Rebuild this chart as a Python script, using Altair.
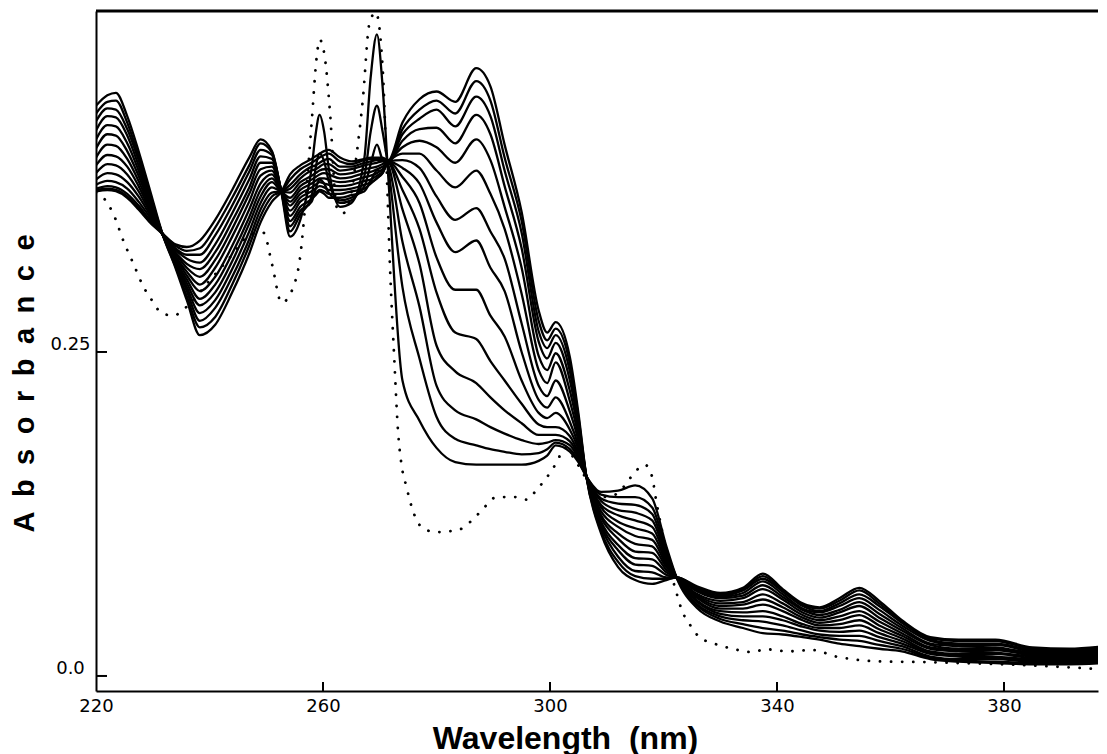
import altair as alt
import pandas as pd

# Wavelength grid (nm) shared by the 14 solid spectra
WL = [220, 222, 223.5, 225.5, 227.5, 229.5, 231.8, 234, 236, 238.3, 241, 244, 247, 249, 251,
      252.7, 254.2, 256, 258, 258.7, 259.4, 260.2, 261, 263, 265, 267.3, 268.4, 269.5, 270.5,
      271.5, 274, 277, 280, 283.3, 287, 289.5, 292, 295, 298, 299.5, 301, 303.5, 305, 306.4,
      309, 312, 315, 318, 320.5, 322.3, 326, 330, 334, 337.5, 341, 344.5, 347.5, 351, 354.5,
      358, 362, 367, 372, 378.5, 385, 391.5, 398]

s00 = [0.374, 0.375, 0.374, 0.369, 0.360, 0.350, 0.341, 0.333, 0.331, 0.336, 0.352, 0.375, 0.400, 0.414, 0.405,
       0.372, 0.339, 0.352, 0.392, 0.418, 0.433, 0.420, 0.392, 0.362, 0.365, 0.400, 0.462, 0.495, 0.455,
       0.385, 0.228, 0.197, 0.176, 0.165, 0.163, 0.163, 0.163, 0.163, 0.166, 0.170, 0.178, 0.173, 0.165, 0.154,
       0.142, 0.143, 0.147, 0.137, 0.100, 0.076, 0.052, 0.042, 0.037, 0.033, 0.032, 0.030, 0.028, 0.025, 0.023,
       0.021, 0.019, 0.013, 0.011, 0.010, 0.009, 0.009, 0.010]
s01 = [0.375, 0.376, 0.375, 0.370, 0.361, 0.351, 0.341, 0.332, 0.328, 0.330, 0.346, 0.369, 0.394, 0.411, 0.404,
       0.373, 0.343, 0.356, 0.370, 0.392, 0.403, 0.397, 0.382, 0.365, 0.367, 0.386, 0.420, 0.440, 0.420,
       0.392, 0.300, 0.245, 0.200, 0.183, 0.178, 0.175, 0.173, 0.171, 0.172, 0.175, 0.180, 0.175, 0.166, 0.154,
       0.140, 0.138, 0.138, 0.130, 0.097, 0.076, 0.054, 0.044, 0.040, 0.037, 0.035, 0.032, 0.030, 0.028, 0.027,
       0.024, 0.021, 0.014, 0.012, 0.011, 0.010, 0.010, 0.011]
s02 = [0.376, 0.378, 0.377, 0.372, 0.363, 0.352, 0.341, 0.330, 0.325, 0.325, 0.340, 0.363, 0.389, 0.406, 0.402,
       0.373, 0.347, 0.359, 0.366, 0.376, 0.383, 0.380, 0.373, 0.367, 0.369, 0.378, 0.395, 0.410, 0.398,
       0.394, 0.335, 0.285, 0.224, 0.205, 0.198, 0.192, 0.187, 0.182, 0.179, 0.180, 0.182, 0.178, 0.168, 0.154,
       0.137, 0.133, 0.132, 0.125, 0.094, 0.076, 0.055, 0.046, 0.043, 0.042, 0.039, 0.035, 0.032, 0.031, 0.031,
       0.027, 0.023, 0.015, 0.013, 0.013, 0.011, 0.011, 0.012]
s03 = [0.379, 0.382, 0.381, 0.376, 0.366, 0.354, 0.341, 0.329, 0.322, 0.319, 0.333, 0.357, 0.383, 0.401, 0.399,
       0.374, 0.351, 0.362, 0.368, 0.371, 0.374, 0.372, 0.369, 0.369, 0.371, 0.374, 0.382, 0.390, 0.390,
       0.396, 0.360, 0.318, 0.255, 0.235, 0.226, 0.215, 0.205, 0.195, 0.186, 0.186, 0.186, 0.181, 0.170, 0.154,
       0.135, 0.128, 0.126, 0.120, 0.092, 0.076, 0.057, 0.048, 0.046, 0.046, 0.043, 0.038, 0.035, 0.034, 0.035,
       0.030, 0.025, 0.017, 0.015, 0.014, 0.012, 0.012, 0.013]
s04 = [0.383, 0.388, 0.387, 0.381, 0.370, 0.356, 0.340, 0.327, 0.318, 0.314, 0.327, 0.351, 0.377, 0.396, 0.396,
       0.374, 0.355, 0.366, 0.371, 0.373, 0.375, 0.374, 0.372, 0.372, 0.374, 0.376, 0.380, 0.384, 0.388,
       0.396, 0.375, 0.345, 0.296, 0.265, 0.260, 0.243, 0.228, 0.210, 0.194, 0.192, 0.192, 0.185, 0.172, 0.154,
       0.132, 0.124, 0.120, 0.115, 0.090, 0.076, 0.058, 0.050, 0.049, 0.050, 0.046, 0.040, 0.037, 0.037, 0.039,
       0.033, 0.027, 0.018, 0.016, 0.015, 0.013, 0.013, 0.014]
s05 = [0.388, 0.395, 0.394, 0.387, 0.374, 0.358, 0.340, 0.326, 0.315, 0.308, 0.321, 0.345, 0.372, 0.391, 0.393,
       0.374, 0.359, 0.369, 0.374, 0.376, 0.378, 0.377, 0.375, 0.375, 0.376, 0.379, 0.381, 0.384, 0.388,
       0.397, 0.385, 0.365, 0.323, 0.298, 0.298, 0.278, 0.262, 0.228, 0.203, 0.199, 0.203, 0.190, 0.175, 0.154,
       0.130, 0.119, 0.114, 0.110, 0.088, 0.076, 0.060, 0.052, 0.052, 0.055, 0.050, 0.043, 0.039, 0.040, 0.043,
       0.036, 0.029, 0.019, 0.017, 0.017, 0.014, 0.014, 0.015]
s06 = [0.394, 0.402, 0.401, 0.393, 0.378, 0.360, 0.340, 0.324, 0.312, 0.302, 0.315, 0.339, 0.366, 0.386, 0.390,
       0.374, 0.363, 0.372, 0.377, 0.379, 0.381, 0.380, 0.379, 0.378, 0.379, 0.382, 0.383, 0.386, 0.389,
       0.397, 0.392, 0.380, 0.350, 0.327, 0.336, 0.315, 0.297, 0.250, 0.213, 0.207, 0.215, 0.196, 0.178, 0.154,
       0.127, 0.115, 0.108, 0.105, 0.086, 0.076, 0.061, 0.054, 0.055, 0.059, 0.053, 0.045, 0.041, 0.043, 0.047,
       0.039, 0.031, 0.021, 0.019, 0.018, 0.015, 0.014, 0.016]
s07 = [0.400, 0.410, 0.409, 0.399, 0.382, 0.362, 0.340, 0.323, 0.309, 0.297, 0.308, 0.332, 0.360, 0.380, 0.387,
       0.374, 0.366, 0.375, 0.380, 0.382, 0.384, 0.384, 0.383, 0.381, 0.382, 0.385, 0.386, 0.388, 0.391,
       0.397, 0.398, 0.392, 0.370, 0.352, 0.361, 0.343, 0.322, 0.272, 0.224, 0.216, 0.228, 0.204, 0.182, 0.154,
       0.124, 0.110, 0.102, 0.100, 0.084, 0.076, 0.062, 0.056, 0.057, 0.063, 0.056, 0.047, 0.043, 0.046, 0.050,
       0.042, 0.033, 0.022, 0.020, 0.020, 0.016, 0.015, 0.017]
s08 = [0.407, 0.418, 0.417, 0.405, 0.386, 0.364, 0.340, 0.321, 0.306, 0.291, 0.302, 0.326, 0.354, 0.375, 0.384,
       0.374, 0.369, 0.378, 0.383, 0.385, 0.387, 0.388, 0.387, 0.384, 0.385, 0.388, 0.389, 0.391, 0.393,
       0.397, 0.403, 0.403, 0.390, 0.377, 0.390, 0.372, 0.345, 0.295, 0.236, 0.226, 0.242, 0.212, 0.186, 0.154,
       0.122, 0.106, 0.096, 0.095, 0.082, 0.076, 0.063, 0.058, 0.060, 0.067, 0.059, 0.049, 0.045, 0.049, 0.054,
       0.045, 0.035, 0.024, 0.021, 0.021, 0.017, 0.016, 0.018]
s09 = [0.414, 0.425, 0.424, 0.411, 0.390, 0.366, 0.340, 0.320, 0.303, 0.286, 0.296, 0.320, 0.349, 0.370, 0.381,
       0.374, 0.373, 0.381, 0.386, 0.388, 0.390, 0.391, 0.391, 0.387, 0.388, 0.391, 0.392, 0.393, 0.395,
       0.397, 0.408, 0.413, 0.408, 0.396, 0.414, 0.398, 0.362, 0.315, 0.247, 0.236, 0.249, 0.220, 0.190, 0.154,
       0.119, 0.101, 0.091, 0.090, 0.080, 0.076, 0.065, 0.060, 0.062, 0.070, 0.061, 0.051, 0.047, 0.051, 0.057,
       0.048, 0.037, 0.025, 0.023, 0.022, 0.018, 0.017, 0.019]
s10 = [0.421, 0.432, 0.431, 0.417, 0.394, 0.368, 0.340, 0.319, 0.300, 0.280, 0.290, 0.314, 0.343, 0.365, 0.377,
       0.374, 0.376, 0.384, 0.390, 0.391, 0.393, 0.395, 0.395, 0.390, 0.391, 0.394, 0.395, 0.396, 0.397,
       0.397, 0.413, 0.422, 0.423, 0.411, 0.433, 0.418, 0.378, 0.330, 0.258, 0.245, 0.257, 0.228, 0.194, 0.154,
       0.117, 0.097, 0.086, 0.085, 0.078, 0.076, 0.066, 0.061, 0.064, 0.073, 0.063, 0.052, 0.049, 0.054, 0.060,
       0.051, 0.039, 0.027, 0.024, 0.024, 0.019, 0.018, 0.020]
s11 = [0.428, 0.438, 0.437, 0.422, 0.398, 0.370, 0.340, 0.318, 0.297, 0.274, 0.284, 0.308, 0.337, 0.360, 0.373,
       0.374, 0.379, 0.387, 0.393, 0.394, 0.396, 0.398, 0.399, 0.393, 0.393, 0.396, 0.397, 0.398, 0.398,
       0.397, 0.418, 0.430, 0.437, 0.424, 0.447, 0.432, 0.390, 0.342, 0.266, 0.253, 0.263, 0.235, 0.197, 0.154,
       0.115, 0.092, 0.081, 0.080, 0.076, 0.076, 0.067, 0.062, 0.066, 0.075, 0.065, 0.054, 0.050, 0.056, 0.063,
       0.054, 0.041, 0.028, 0.025, 0.025, 0.020, 0.019, 0.021]
s12 = [0.434, 0.443, 0.444, 0.427, 0.401, 0.372, 0.340, 0.316, 0.293, 0.269, 0.277, 0.302, 0.332, 0.355, 0.370,
       0.374, 0.383, 0.391, 0.396, 0.398, 0.400, 0.402, 0.403, 0.397, 0.395, 0.398, 0.399, 0.399, 0.399,
       0.397, 0.422, 0.437, 0.444, 0.434, 0.459, 0.444, 0.400, 0.351, 0.274, 0.259, 0.268, 0.241, 0.200, 0.154,
       0.112, 0.088, 0.077, 0.075, 0.075, 0.076, 0.068, 0.063, 0.067, 0.077, 0.066, 0.055, 0.052, 0.058, 0.066,
       0.056, 0.042, 0.029, 0.027, 0.027, 0.021, 0.020, 0.022]
s13 = [0.440, 0.448, 0.450, 0.432, 0.405, 0.375, 0.340, 0.315, 0.290, 0.263, 0.271, 0.296, 0.326, 0.350, 0.366,
       0.374, 0.387, 0.394, 0.399, 0.401, 0.403, 0.405, 0.406, 0.400, 0.397, 0.399, 0.400, 0.400, 0.400,
       0.398, 0.427, 0.445, 0.451, 0.443, 0.469, 0.455, 0.410, 0.358, 0.282, 0.265, 0.273, 0.246, 0.203, 0.154,
       0.110, 0.084, 0.074, 0.071, 0.074, 0.076, 0.069, 0.064, 0.068, 0.079, 0.067, 0.056, 0.053, 0.060, 0.068,
       0.058, 0.043, 0.030, 0.028, 0.028, 0.022, 0.021, 0.023]

SOLID = [s00, s01, s02, s03, s04, s05, s06, s07, s08, s09, s10, s11, s12, s13]

# Dotted reference spectrum
DOT_WL = [220, 221.5, 223.3, 224.8, 226.6, 228.4, 230, 231.3, 233.6, 236, 240, 244, 247, 249.5, 251,
          252.7, 255, 255.9, 257, 258, 258.9, 259.4, 260.3, 261.2, 262.4, 263.5, 264.7, 266, 267, 268.2,
          269.3, 270.5, 271.2, 271.8, 272.6, 273.2, 273.8, 274.7, 275.8, 277.6, 280, 284, 287.6, 290.6,
          294.1, 296, 297.6, 299.4, 301.2, 302.6, 304.5, 306.4, 308.5, 311, 313, 314.9, 316.7, 317.9,
          318.8, 319.7, 321, 322.3, 323.2, 324.6, 326.3, 328.6, 331.6, 335.7, 338, 342, 346.2, 350.5,
          354.5, 360, 365, 372, 380, 390, 398]
DOT_A = [0.373, 0.368, 0.354, 0.336, 0.318, 0.300, 0.289, 0.281, 0.278, 0.285, 0.305, 0.325, 0.340, 0.342, 0.318,
         0.288, 0.303, 0.321, 0.370, 0.427, 0.478, 0.491, 0.478, 0.437, 0.362, 0.357, 0.367, 0.405, 0.444, 0.504,
         0.512, 0.470, 0.393, 0.316, 0.241, 0.190, 0.164, 0.146, 0.128, 0.114, 0.111, 0.113, 0.126, 0.138,
         0.138, 0.136, 0.1435, 0.153, 0.165, 0.176, 0.166, 0.152, 0.138, 0.139, 0.146, 0.157, 0.163, 0.155,
         0.133, 0.113, 0.085, 0.064, 0.051, 0.040, 0.030, 0.0255, 0.0216, 0.0185, 0.0206, 0.019, 0.020, 0.0149,
         0.0123, 0.011, 0.0108, 0.010, 0.009, 0.007, 0.005]

X_TICKS = [220, 260, 300, 340, 380]
Y_TICKS = [0.0, 0.25]

rows = []
for i, s in enumerate(SOLID):
    for w, a in zip(WL, s):
        rows.append({"wl": w, "A": a, "series": f"s{i:02d}"})
solid_df = pd.DataFrame(rows)
dot_df = pd.DataFrame({"wl": DOT_WL, "A": DOT_A})

W, H = 1002, 680
xs = alt.Scale(domain=[220, 396.56], nice=False, zero=False)
ys = alt.Scale(domain=[-0.0116, 0.5131], nice=False, zero=False)

LBL = "DejaVu Sans"
TTL = "Liberation Sans"
SP = "\u2002"  # wide letter spacing as in the printed figure

x_axis = alt.Axis(values=X_TICKS, grid=False, ticks=False, tickSize=0, domain=True,
                  domainColor="black", domainWidth=2, labelFont=LBL, labelFontSize=18,
                  labelColor="black", labelPadding=6, labelFlush=False,
                  title="Wavelength\u00a0 (nm)",
                  titleFont=TTL, titleFontSize=32, titleFontWeight="bold", titleColor="black",
                  titleX=469, titleY=57, titleAnchor="start", titleAlign="center",
                  titleBaseline="alphabetic")
y_axis = alt.Axis(values=Y_TICKS, grid=False, ticks=False, tickSize=0, domain=True,
                  domainColor="black", domainWidth=2, labelFont=LBL, labelFontSize=18,
                  labelColor="black", labelPadding=26, labelAlign="center", labelFlush=False,
                  labelOffset=-7,
                  labelExpr="datum.value == 0 ? '0.0' : '0.25'",
                  title=SP.join("Absorbance"), titleFont=TTL, titleFontSize=29,
                  titleFontWeight="bold", titleColor="black", titleX=-63, titleY=372,
                  titleAngle=270, titleAlign="center", titleBaseline="alphabetic",
                  titleAnchor="start")

dotted = alt.Chart(dot_df).mark_line(
    interpolate="monotone", color="black", strokeWidth=2.8, strokeDash=[0.1, 11],
    strokeCap="round", clip=True
).encode(x=alt.X("wl:Q", scale=xs, axis=x_axis), y=alt.Y("A:Q", scale=ys, axis=y_axis))

solid = alt.Chart(solid_df).mark_line(
    interpolate="monotone", color="black", strokeWidth=2.3, clip=True
).encode(x=alt.X("wl:Q", scale=xs), y=alt.Y("A:Q", scale=ys), detail="series:N")

xt = alt.Chart(pd.DataFrame({"t": X_TICKS[1:]})).mark_rule(color="black", strokeWidth=2).encode(
    x=alt.X("t:Q", scale=xs), y=alt.value(H), y2=alt.value(H - 9))
yt = alt.Chart(pd.DataFrame({"t": Y_TICKS})).mark_rule(color="black", strokeWidth=2).encode(
    y=alt.Y("t:Q", scale=ys), x=alt.value(0), x2=alt.value(11))
top = alt.Chart(pd.DataFrame({"t": [0]})).mark_rule(color="black", strokeWidth=3).encode(
    x=alt.value(0), x2=alt.value(W), y=alt.value(0))

chart = alt.layer(dotted, solid, xt, yt, top).properties(
    width=W, height=H,
    autosize=alt.AutoSizeParams(type="none"),
    padding={"left": 88, "top": 3, "right": 1, "bottom": 66},
    background="white",
).configure_view(stroke=None)

chart.save("out.html", embed_options={"renderer": "svg", "actions": False})
